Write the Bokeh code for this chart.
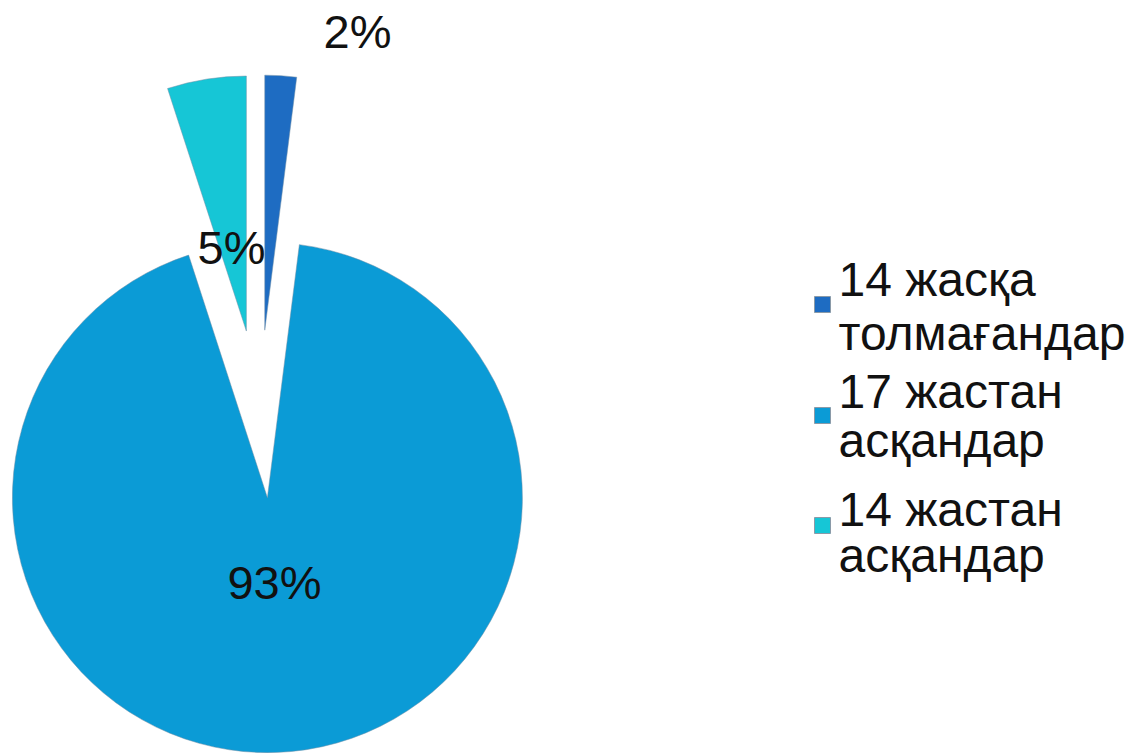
import math
from bokeh.plotting import figure
from bokeh.models import Range1d, ColumnDataSource
from bokeh.core.properties import value
from bokeh.embed import file_html
from bokeh.resources import INLINE

# ---- data ----
categories = ["14 жасқа\nтолмағандар", "17 жастан\nасқандар", "14 жастан\nасқандар"]
shares = [2, 93, 5]
pct_labels = ["2%", "93%", "5%"]
colors = ["#1E6CC2", "#0B9BD6", "#16C6D6"]

# ---- layout (pixel space, y measured from top of page) ----
W, H = 1130, 754
CX, CY = 259, 413.5       # pie centre
R = 255                   # radius
EXPLODE = 84              # explosion distance
LABEL_POS = [(357, 31), (274, 582), (231, 247)]  # label centres (x, y from top)
LEG_BASELINES = [(279, 333), (391, 440), (509, 555)]
LEG_MARK_Y = [304, 415, 525]

def fy(y):
    return H - y

p = figure(width=W, height=H, output_backend="svg", toolbar_location=None,
           x_range=Range1d(0, W), y_range=Range1d(0, H),
           x_axis_location=None, y_axis_location=None,
           min_border=0, outline_line_color=None, background_fill_color="white",
           border_fill_color="white")
p.grid.visible = False

total = sum(shares)
xs, ys, starts, ends = [], [], [], []
acc = 0.0
for s in shares:
    a0 = acc / total * 360.0          # clockwise from 12 o'clock
    a1 = (acc + s) / total * 360.0
    mid = math.radians((a0 + a1) / 2)
    xs.append(CX + EXPLODE * math.sin(mid))
    ys.append(fy(CY - EXPLODE * math.cos(mid)))
    starts.append(math.radians(90 - a1))
    ends.append(math.radians(90 - a0))
    acc += s

src = ColumnDataSource(dict(x=xs, y=ys, start=starts, end=ends, color=colors))
p.wedge(x="x", y="y", radius=R, start_angle="start", end_angle="end",
        fill_color="color", line_color="#6f8fa8", line_alpha=0.5, line_width=1,
        direction="anticlock", source=src)

# percentage labels
p.text(x=[q[0] for q in LABEL_POS], y=[fy(q[1]) for q in LABEL_POS], text=pct_labels,
       text_font=value("Liberation Sans"), text_font_size="47px", text_color="#111111",
       text_align="center", text_baseline="middle")

# legend
LEG_X_MARK, LEG_X_TEXT = 822, 838
mx, my, tx, ty, tt = [], [], [], [], []
for i, lab in enumerate(categories):
    lines = lab.split("\n")
    for j, ln in enumerate(lines):
        tx.append(LEG_X_TEXT)
        ty.append(fy(LEG_BASELINES[i][j]))
        tt.append(ln)
    mx.append(LEG_X_MARK)
    my.append(fy(LEG_MARK_Y[i]))
p.rect(x=mx, y=my, width=16, height=16, fill_color=colors, line_color="#8a9aa8", line_width=1)
p.text(x=tx, y=ty, text=tt, text_font=value("Liberation Sans"), text_font_size="48px",
       text_color="#111111", text_align="left", text_baseline="alphabetic")

open("out.html", "w").write(file_html(p, INLINE))
